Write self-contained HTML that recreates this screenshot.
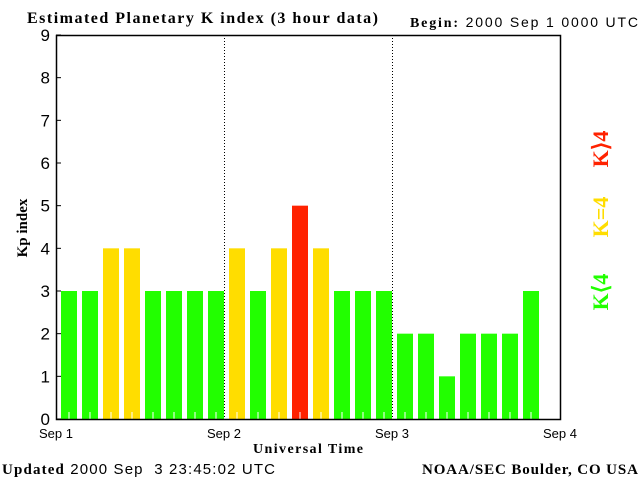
<!DOCTYPE html>
<html><head><meta charset="utf-8"><style>
body{margin:0;background:#fff}
svg{display:block}
</style></head><body>
<svg id="chart" width="640" height="480" xmlns="http://www.w3.org/2000/svg" font-family="Liberation Sans, sans-serif">
<rect width="640" height="480" fill="#fff"/>
<text x="27" y="23" font-family="Liberation Serif, serif" font-weight="bold" font-size="16" textLength="351" lengthAdjust="spacing">Estimated Planetary K index (3 hour data)</text>
<text x="410" y="27" font-size="14" textLength="228" lengthAdjust="spacing"><tspan font-family="Liberation Serif, serif" font-weight="bold">Begin:</tspan> 2000 Sep 1 0000 UTC</text>
<text transform="translate(27,228) rotate(-90)" text-anchor="middle" font-family="Liberation Serif, serif" font-weight="bold" font-size="15">Kp index</text>
<text x="308" y="453" text-anchor="middle" font-family="Liberation Serif, serif" font-weight="bold" font-size="14" textLength="110" lengthAdjust="spacing">Universal Time</text>
<text x="2" y="474" font-size="15" textLength="273" lengthAdjust="spacing" xml:space="preserve"><tspan font-family="Liberation Serif, serif" font-weight="bold">Updated</tspan> 2000 Sep  3 23:45:02 UTC</text>
<text x="422" y="474" font-family="Liberation Serif, serif" font-weight="bold" font-size="15" textLength="216" lengthAdjust="spacing">NOAA/SEC Boulder, CO USA</text>
<g id="bars"></g>
<g id="axes"></g>
<g font-family="Liberation Serif, serif" font-weight="bold" font-size="22">
<text transform="translate(608,149) rotate(-90)" text-anchor="middle" fill="#ff2200">K⟩4</text>
<text transform="translate(608,217) rotate(-90)" text-anchor="middle" fill="#ffdd00">K=4</text>
<text transform="translate(608,292) rotate(-90)" text-anchor="middle" fill="#22ff00">K⟨4</text>
</g>
</svg>
<script>
const kpValues=[3,3,4,4,3,3,3,3, 4,3,4,5,4,3,3,3, 2,2,1,2,2,2,3];
const dayLabels=["Sep 1","Sep 2","Sep 3","Sep 4"];
const yTicks=[0,1,2,3,4,5,6,7,8,9];
const X0=56,X1=560,Y0=419,Y1=35,YMAX=9,SLOTS=24;
const xs=i=>X0+(X1-X0)*i/SLOTS;
const ys=v=>Y0-(Y0-Y1)*v/YMAX;
const NS="http://www.w3.org/2000/svg";
function mk(t,a){const e=document.createElementNS(NS,t);for(const k in a)e.setAttribute(k,a[k]);return e;}
const bars=document.getElementById('bars'),axes=document.getElementById('axes');
kpValues.forEach((v,i)=>{
 const c=v<4?'#22ff00':(v==4?'#ffdd00':'#ff2200');
 const r=mk('rect',{x:xs(i)+5,y:ys(v),width:16,height:Y0-ys(v),fill:c});
 
 
 bars.appendChild(r);
});
for(let i=0;i<SLOTS;i++){const cx=xs(i)+13;
 const t=mk('line',{x1:cx,x2:cx,y1:Y0-7,y2:Y0,stroke:'#fff','stroke-width':1});
 axes.appendChild(t);}
[1,2].forEach(d=>{const x=xs(d*8)+0.5;
 const l=mk('line',{x1:x,x2:x,y1:Y1,y2:Y0,stroke:'#000','stroke-dasharray':'1,2'});
 axes.appendChild(l);});
const frame=mk('rect',{x:X0+0.5,y:Y1+0.5,width:X1-X0,height:Y0-Y1,fill:'none',stroke:'#000','stroke-width':1.5});
axes.appendChild(frame);
yTicks.forEach(v=>{const y=ys(v);
 const t=mk('line',{x1:X0,x2:X0+5,y1:y,y2:y,stroke:'#000'});
 axes.appendChild(t);
 const tx=mk('text',{x:50,y:y+6,'text-anchor':'end','font-size':17});tx.textContent=v;
 axes.appendChild(tx);});
dayLabels.forEach((s,d)=>{const tx=mk('text',{x:xs(d*8),y:438,'text-anchor':'middle','font-size':13});tx.textContent=s;
 axes.appendChild(tx);});
</script>
</body></html>
